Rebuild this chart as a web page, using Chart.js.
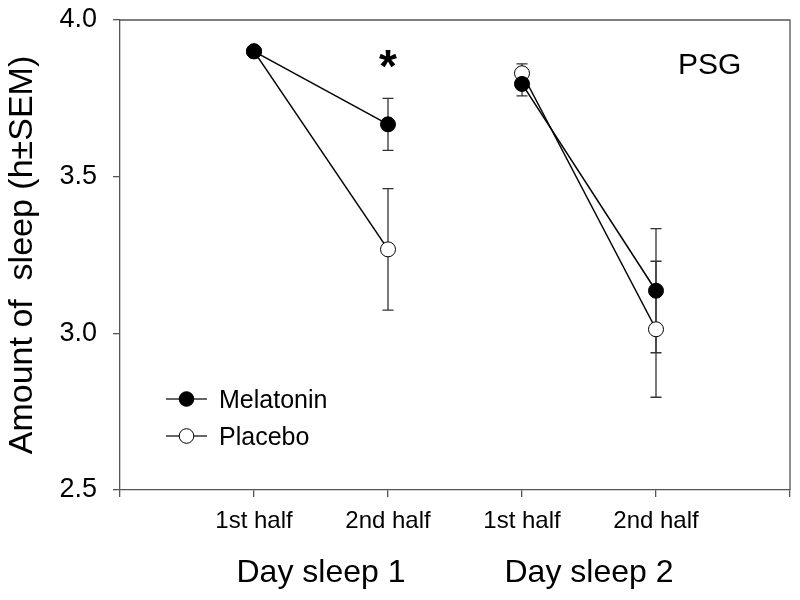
<!DOCTYPE html>
<html><head><meta charset="utf-8">
<script src="https://cdn.jsdelivr.net/npm/chart.js@4/dist/chart.umd.min.js"></script>
<style>html,body{margin:0;padding:0;background:#fff}#wrap{width:800px;height:600px}</style>
</head><body><div id="wrap"><canvas id="c" width="800" height="600"></canvas></div>
<script>
// ---- data ----
const positions = [1, 2, 3, 4];
const halfLabels = ['1st half', '2nd half', '1st half', '2nd half'];
const dayOfPoint = [1, 1, 2, 2];
const dayLabels = ['Day sleep 1', 'Day sleep 2'];
const dayCenters = [1.5, 3.5];
const melatonin = [3.90, 3.667, 3.796, 3.136];
const melatoninSEM = [0.01, 0.083, 0.038, 0.198];
const placebo = [3.90, 3.268, 3.830, 3.013];
const placeboSEM = [0.01, 0.194, 0.030, 0.217];
const yTicks = [2.5, 3.0, 3.5, 4.0];
const xTicks = [0, 1, 2, 3, 4, 5];
const seriesNames = ['Melatonin', 'Placebo'];
const starAt = {x: 2, y: 3.885};
const panelLabel = {text: 'PSG', x: 4.4, y: 3.863};

const FONT = '"Liberation Sans", Arial, Helvetica, sans-serif';
const AXIS = '#555555';

const errorBars = {
  id: 'errorBars',
  beforeDatasetsDraw(chart) {
    const {ctx, scales: {x, y}} = chart;
    const sets = [[melatonin, melatoninSEM], [placebo, placeboSEM]];
    ctx.save();
    ctx.strokeStyle = '#333';
    ctx.lineWidth = 1.3;
    sets.forEach(([m, s]) => {
      m.forEach((v, i) => {
        const px = x.getPixelForValue(positions[i]);
        const t = y.getPixelForValue(v + s[i]);
        const b = y.getPixelForValue(v - s[i]);
        ctx.beginPath();
        ctx.moveTo(px, t); ctx.lineTo(px, b);
        ctx.moveTo(px - 5.5, t); ctx.lineTo(px + 5.5, t);
        ctx.moveTo(px - 5.5, b); ctx.lineTo(px + 5.5, b);
        ctx.stroke();
      });
    });
    ctx.restore();
  }
};

const extras = {
  id: 'extras',
  afterDraw(chart) {
    const {ctx, chartArea: a, scales: {x, y}} = chart;
    ctx.save();
    // frame top & right
    ctx.strokeStyle = AXIS; ctx.lineWidth = 1.3;
    ctx.beginPath();
    ctx.moveTo(a.left, a.top); ctx.lineTo(a.right, a.top); ctx.lineTo(a.right, a.bottom);
    ctx.stroke();
    ctx.fillStyle = '#000';
    // day labels
    ctx.font = '32px ' + FONT;
    ctx.textAlign = 'center'; ctx.textBaseline = 'alphabetic';
    dayLabels.forEach((t, i) => ctx.fillText(t, x.getPixelForValue(dayCenters[i]), 582));
    // star
    ctx.font = 'bold 46px ' + FONT;
    ctx.fillText('*', x.getPixelForValue(starAt.x), y.getPixelForValue(starAt.y) + 0.575 * 46);
    // PSG
    ctx.font = '30px ' + FONT;
    ctx.fillText(panelLabel.text, x.getPixelForValue(panelLabel.x), y.getPixelForValue(panelLabel.y) + 0.358 * 30);
    // legend
    const lx = a.left + 46, rows = [399, 436];
    ctx.font = '25px ' + FONT; ctx.textAlign = 'left';
    seriesNames.forEach((n, i) => {
      const ry = rows[i];
      ctx.strokeStyle = '#333'; ctx.lineWidth = 1.3;
      ctx.beginPath(); ctx.moveTo(lx, ry); ctx.lineTo(lx + 41, ry); ctx.stroke();
      ctx.beginPath(); ctx.arc(lx + 20.5, ry, 7.3, 0, Math.PI * 2);
      ctx.fillStyle = i === 0 ? '#000' : '#fff'; ctx.fill();
      ctx.strokeStyle = '#000'; ctx.lineWidth = 1; ctx.stroke();
      ctx.fillStyle = '#000';
      ctx.fillText(n, lx + 53, ry + 8.5);
    });
    ctx.restore();
  }
};

const mk = (vals) => positions.map((p, i) => ({x: p, y: vals[i]}));
const segColor = c => dayOfPoint[c.p0DataIndex] === dayOfPoint[c.p1DataIndex] ? '#000' : 'rgba(0,0,0,0)';

new Chart(document.getElementById('c'), {
  type: 'line',
  data: {
    datasets: [
      {label: seriesNames[0], data: mk(melatonin), borderColor: '#000', borderWidth: 1.5,
       pointRadius: 7.5, pointHoverRadius: 7.5, pointBackgroundColor: '#000', pointBorderColor: '#000',
       pointBorderWidth: 1, tension: 0, segment: {borderColor: segColor}},
      {label: seriesNames[1], data: mk(placebo), borderColor: '#000', borderWidth: 1.5,
       pointRadius: 7.5, pointHoverRadius: 7.5, pointBackgroundColor: '#fff', pointBorderColor: '#000',
       pointBorderWidth: 1, tension: 0, segment: {borderColor: segColor}}
    ]
  },
  options: {
    responsive: false, animation: false, devicePixelRatio: 1,
    layout: {padding: {top: 20, right: 10, left: 0, bottom: 0}},
    plugins: {legend: {display: false}, tooltip: {enabled: false}},
    scales: {
      x: {
        type: 'linear', min: 0, max: 5,
        afterBuildTicks: s => { s.ticks = xTicks.map(v => ({value: v})); },
        afterFit: s => { s.height = 110; s.paddingLeft = 0; s.paddingRight = 0; },
        ticks: {
          autoSkip: false, maxRotation: 0, padding: 10, color: '#000',
          font: {family: FONT, size: 24},
          callback: v => { const i = positions.indexOf(v); return i >= 0 ? halfLabels[i] : ''; }
        },
        grid: {display: true, drawOnChartArea: false, drawTicks: true, tickLength: 7, color: AXIS, lineWidth: 1.3},
        border: {display: true, color: AXIS, width: 1.3}
      },
      y: {
        min: 2.5, max: 4.0,
        afterBuildTicks: s => { s.ticks = yTicks.map(v => ({value: v})); },
        afterFit: s => { s.width = 120; s.paddingTop = 0; s.paddingBottom = 0; },
        ticks: {padding: 16, color: '#000', font: {family: FONT, size: 27}, callback: v => Number(v).toFixed(1)},
        grid: {display: true, drawOnChartArea: false, drawTicks: true, tickLength: 7, color: AXIS, lineWidth: 1.3},
        border: {display: true, color: AXIS, width: 1.3},
        title: {display: true, text: 'Amount of  sleep (h±SEM)', color: '#000',
                font: {family: FONT, size: 34}, padding: {top: 2, bottom: 0}}
      }
    }
  },
  plugins: [errorBars, extras]
});
</script></body></html>
